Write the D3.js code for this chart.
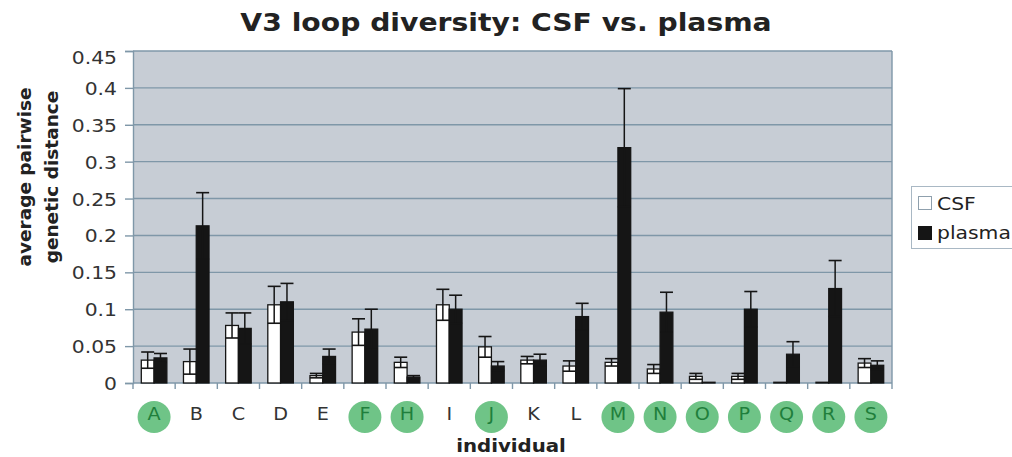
<!DOCTYPE html>
<html>
<head>
<meta charset="utf-8">
<script src="https://cdn.jsdelivr.net/npm/d3@7"></script>
<style>
  html, body { margin: 0; padding: 0; background: #fff; }
  svg { display: block; }
  text { font-family: "DejaVu Sans", Verdana, sans-serif; }
</style>
</head>
<body>
<svg id="chart" width="1012" height="457"></svg>
<script>
const categories = ["A","B","C","D","E","F","H","I","J","K","L","M","N","O","P","Q","R","S"];
const highlighted = ["A","F","H","J","M","N","O","P","Q","R","S"];
const seriesNames = ["CSF","plasma"];
const csf       = [0.031,0.029,0.078,0.106,0.010,0.069,0.028,0.106,0.049,0.031,0.023,0.028,0.019,0.009,0.009,0.001,0.001,0.027];
const csfErr    = [0.011,0.017,0.017,0.025,0.003,0.018,0.007,0.021,0.014,0.005,0.007,0.005,0.006,0.004,0.004,0,0,0.006];
const plasma    = [0.034,0.213,0.074,0.110,0.036,0.073,0.008,0.100,0.023,0.031,0.090,0.319,0.096,0.001,0.100,0.039,0.128,0.024];
const plasmaErr = [0.006,0.045,0.021,0.025,0.010,0.027,0.002,0.019,0.006,0.008,0.018,0.080,0.027,0,0.024,0.017,0.038,0.006];
const yTicks = [0,0.05,0.1,0.15,0.2,0.25,0.3,0.35,0.4,0.45];
const title = "V3 loop diversity: CSF vs. plasma";
const xTitle = "individual";
const yTitle = ["average pairwise","genetic distance"];

const svg = d3.select("#chart");
const L = 133, R = 892, T = 51, B = 383;
const SX = 1.13; // horizontal stretch of the reference's text
const gridColor = "#7f97a8";

const x = d3.scaleBand().domain(categories).range([L, R]).padding(0);
const xs = d3.scaleBand().domain(seriesNames).range([0, x.bandwidth()]).paddingInner(0).paddingOuter(0.65);
const y = d3.scaleLinear().domain([0, 0.45]).range([B, T]);

// plot background
svg.append("rect").attr("x", L).attr("y", T).attr("width", R - L).attr("height", B - T)
  .attr("fill", "#c7cdd5");

// gridlines
svg.append("g").selectAll("line").data(yTicks.filter(d => d > 0)).join("line")
  .attr("x1", L).attr("x2", R).attr("y1", d => y(d)).attr("y2", d => y(d))
  .attr("stroke", gridColor).attr("stroke-width", 1.4);

// right border
svg.append("line").attr("x1", R).attr("x2", R).attr("y1", T).attr("y2", B)
  .attr("stroke", gridColor).attr("stroke-width", 1.4);

// y axis
const yAxis = svg.append("g").attr("transform", `translate(${L},0)`)
  .call(d3.axisLeft(y).tickValues(yTicks).tickSize(8).tickPadding(8).tickFormat(d => String(+d.toFixed(2))));
yAxis.select(".domain").attr("stroke", gridColor).attr("stroke-width", 1.4);
yAxis.selectAll(".tick line").attr("stroke", gridColor).attr("stroke-width", 1.4);
yAxis.selectAll(".tick text")
  .attr("x", null).attr("dy", null)
  .attr("transform", d => `translate(-16,${d === 0.45 ? 12.5 : 6.5}) scale(${SX},1)`)
  .attr("font-size", 18).attr("fill", "#333").attr("font-family", "DejaVu Sans");

// x axis baseline + ticks at band boundaries
svg.append("line").attr("x1", L).attr("x2", R).attr("y1", B).attr("y2", B)
  .attr("stroke", gridColor).attr("stroke-width", 1.6);
svg.append("g").selectAll("line").data(categories.concat(["__end"])).join("line")
  .attr("x1", d => d === "__end" ? R : x(d)).attr("x2", d => d === "__end" ? R : x(d))
  .attr("y1", B).attr("y2", B + 6)
  .attr("stroke", gridColor).attr("stroke-width", 1.4);

// bars
const rows = categories.map((c, i) => ({
  cat: c,
  vals: [
    {s: "CSF", v: csf[i], e: csfErr[i]},
    {s: "plasma", v: plasma[i], e: plasmaErr[i]}
  ]
}));
const groups = svg.append("g").selectAll("g").data(rows).join("g")
  .attr("transform", d => `translate(${x(d.cat)},0)`);
groups.selectAll("rect").data(d => d.vals).join("rect")
  .attr("x", d => xs(d.s)).attr("width", xs.bandwidth())
  .attr("y", d => y(d.v)).attr("height", d => y(0) - y(d.v))
  .attr("fill", d => d.s === "CSF" ? "#ffffff" : "#151515")
  .attr("stroke", "#151515").attr("stroke-width", 1.3);

// error bars
const capW = 13;
const eb = groups.selectAll("g.err").data(d => d.vals.filter(v => v.e > 0)).join("g").attr("class", "err");
eb.append("line")
  .attr("x1", d => xs(d.s) + xs.bandwidth() / 2).attr("x2", d => xs(d.s) + xs.bandwidth() / 2)
  .attr("y1", d => y(Math.max(0, d.v - d.e))).attr("y2", d => y(d.v + d.e))
  .attr("stroke", "#151515").attr("stroke-width", 1.5);
eb.append("line")
  .attr("x1", d => xs(d.s) + xs.bandwidth() / 2 - capW / 2).attr("x2", d => xs(d.s) + xs.bandwidth() / 2 + capW / 2)
  .attr("y1", d => y(d.v + d.e)).attr("y2", d => y(d.v + d.e))
  .attr("stroke", "#151515").attr("stroke-width", 1.6);
eb.append("line")
  .attr("x1", d => xs(d.s) + xs.bandwidth() / 2 - capW / 2).attr("x2", d => xs(d.s) + xs.bandwidth() / 2 + capW / 2)
  .attr("y1", d => y(Math.max(0, d.v - d.e))).attr("y2", d => y(Math.max(0, d.v - d.e)))
  .attr("stroke", "#151515").attr("stroke-width", 1.6);

// x category labels with green circles
const lab = svg.append("g").selectAll("g").data(categories).join("g")
  .attr("transform", d => `translate(${x(d) + x.bandwidth() / 2},0)`);
lab.filter(d => highlighted.includes(d)).append("ellipse")
  .attr("cx", 0).attr("cy", 417).attr("rx", 16.5).attr("ry", 16)
  .attr("fill", "#6fc487");
lab.append("text")
  .attr("text-anchor", "middle")
  .attr("transform", `translate(0,420) scale(${SX},1)`)
  .attr("font-size", 17)
  .attr("fill", d => highlighted.includes(d) ? "#1f7f3c" : "#333")
  .text(d => d);

// title
svg.append("text").attr("text-anchor", "middle")
  .attr("transform", `translate(506,31) scale(${SX},1)`)
  .attr("font-size", 25).attr("font-weight", "bold").attr("fill", "#222")
  .text(title);

// x title
svg.append("text").attr("text-anchor", "middle")
  .attr("transform", `translate(511,452) scale(${SX},1)`)
  .attr("font-size", 17.5).attr("font-weight", "bold").attr("fill", "#222")
  .text(xTitle);

// y title
yTitle.forEach((t, i) => {
  svg.append("text").attr("text-anchor", "middle")
    .attr("transform", `translate(${31 + i * 27},177) rotate(-90)`)
    .attr("font-size", 18.5).attr("font-weight", "bold").attr("fill", "#222")
    .text(t);
});

// legend
const lg = svg.append("g");
lg.append("rect").attr("x", 911.5).attr("y", 186.5).attr("width", 120).attr("height", 62)
  .attr("fill", "#fff").attr("stroke", "#a9b8c4").attr("stroke-width", 1);
seriesNames.forEach((s, i) => {
  lg.append("rect").attr("x", 918.5).attr("y", 196.5 + i * 30).attr("width", 13).attr("height", 13)
    .attr("fill", s === "CSF" ? "#fff" : "#151515")
    .attr("stroke", s === "CSF" ? "#8fa0ad" : "#151515").attr("stroke-width", 1);
  lg.append("text").attr("transform", `translate(937,${210 + i * 29}) scale(${SX},1)`)
    .attr("font-size", 18).attr("fill", "#222").text(s);
});
</script>
</body>
</html>
